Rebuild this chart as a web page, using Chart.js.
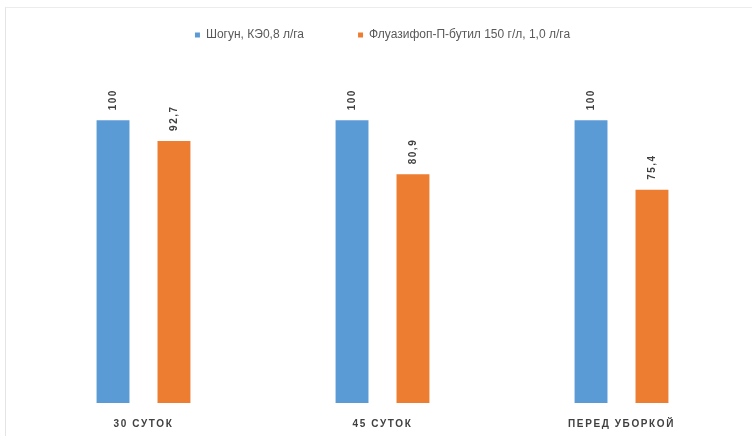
<!DOCTYPE html>
<html lang="ru">
<head>
<meta charset="utf-8">
<script src="https://cdn.jsdelivr.net/npm/chart.js@4/dist/chart.umd.min.js"></script>
<style>
  html, body { margin: 0; padding: 0; background: #ffffff; overflow: hidden; }
  #frame {
    position: absolute; left: 5px; top: 7px;
    width: 760px; height: 440px;
    border-left: 1px solid #e4e4e4; border-top: 1px solid #ececec;
  }
  #chart { display: block; }
</style>
</head>
<body>
<div id="frame"><canvas id="chart" width="746" height="428"></canvas></div>
<script>
// Periods of observation
const categories = ['30 СУТОК', '45 СУТОК', 'ПЕРЕД УБОРКОЙ'];
// Series names
const seriesNames = ['Шогун, КЭ0,8 л/га', 'Флуазифоп-П-бутил 150 г/л, 1,0 л/га'];
// Values, %
const shogunValues = [100, 100, 100];
const fluazifopValues = [92.7, 80.9, 75.4];
const seriesColors = ['#5B9BD5', '#ED7D31'];

const fmt = v => String(v).replace('.', ',');

// Rotated value labels above each bar, then letter spacing for the category axis
const barLabels = {
  id: 'barLabels',
  afterDatasetsDraw(chart) {
    const ctx = chart.ctx;
    ctx.save();
    ctx.font = 'bold 10px "Liberation Sans", Arial, sans-serif';
    ctx.letterSpacing = '1.5px';
    ctx.fillStyle = '#404040';
    ctx.textAlign = 'left';
    ctx.textBaseline = 'middle';
    chart.data.datasets.forEach((ds, di) => {
      chart.getDatasetMeta(di).data.forEach((bar, i) => {
        ctx.save();
        ctx.translate(bar.x, bar.y - 10);
        ctx.rotate(-Math.PI / 2);
        ctx.fillText(fmt(ds.data[i]), 0, 0);
        ctx.restore();
      });
    });
    ctx.restore();
    ctx.letterSpacing = '1.6px';
  },
  afterDraw(chart) {
    chart.ctx.letterSpacing = '0px';
  }
};

new Chart(document.getElementById('chart'), {
  type: 'bar',
  data: {
    labels: categories,
    datasets: [
      { label: seriesNames[0], data: shogunValues, backgroundColor: seriesColors[0] },
      { label: seriesNames[1], data: fluazifopValues, backgroundColor: seriesColors[1] }
    ]
  },
  options: {
    responsive: false,
    animation: false,
    devicePixelRatio: 1,
    layout: { padding: { left: 18, right: 11, top: -33, bottom: -1 } },
    datasets: {
      bar: { categoryPercentage: 0.51, barPercentage: 0.54 }
    },
    scales: {
      x: {
        grid: { display: false },
        border: { display: false },
        ticks: {
          z: 1,
          padding: 7,
          color: '#404040',
          font: { family: '"Liberation Sans", Arial, sans-serif', size: 10, weight: 'bold' }
        }
      },
      y: {
        display: false,
        min: 0,
        max: 124.5
      }
    },
    plugins: {
      legend: {
        position: 'top',
        labels: {
          boxWidth: 5,
          boxHeight: 5,
          padding: 54,
          color: '#595959',
          font: { family: '"Liberation Sans", Arial, sans-serif', size: 12 }
        }
      },
      tooltip: { enabled: false }
    }
  },
  plugins: [barLabels]
});
</script>
</body>
</html>
